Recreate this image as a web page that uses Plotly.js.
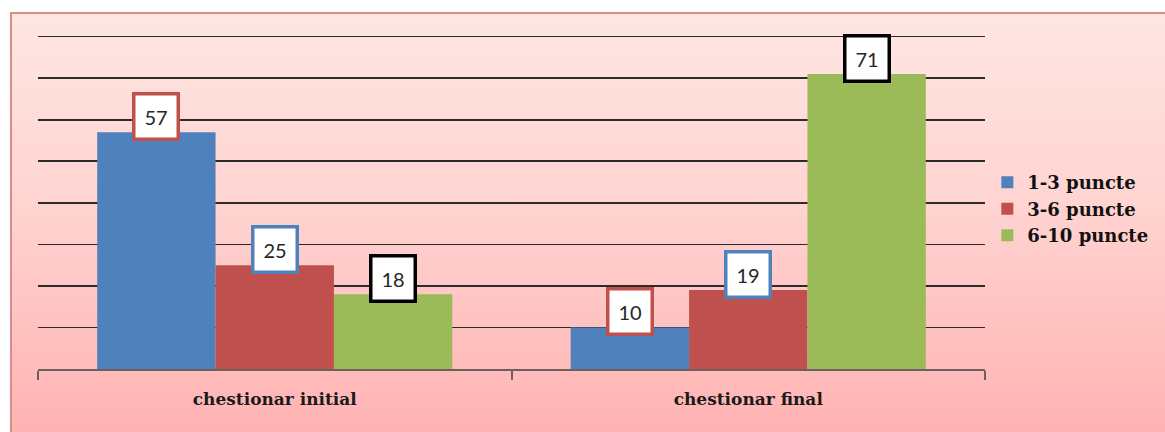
<!DOCTYPE html>
<html>
<head>
<meta charset="utf-8">
<script src="https://cdn.plot.ly/plotly-3.0.1.min.js"></script>
<style>
  html, body { margin: 0; padding: 0; background: #ffffff; }
  #bg {
    position: absolute; left: 10px; top: 12px; width: 1155px; height: 420px;
    border-left: 2px solid #d98c88; border-top: 2px solid #d98c88;
    background: linear-gradient(to bottom, #fee6e3 0%, #ffd4d1 45%, #ffb3b3 100%);
    box-sizing: border-box;
  }
  #chart { position: absolute; left: 0; top: 0; width: 1165px; height: 432px; }
</style>
</head>
<body>
<div id="bg"></div>
<div id="chart"></div>
<script>
const categories = ["chestionar initial", "chestionar final"];
const seriesNames = ["1-3 puncte", "3-6 puncte", "6-10 puncte"];
const values13 = [57, 10];
const values36 = [25, 19];
const values610 = [18, 71];

const seriesValues = [values13, values36, values610];
const barColors = ["#4f81bd", "#c0504d", "#9bbb59"];
const labelBorders = ["#c0504d", "#4f81bd", "#000000"];

const W = 1165, H = 432;
const margin = {l: 38, r: 180, t: 35, b: 63};
const bargap = 0.25;
const plotW = W - margin.l - margin.r;
const barPx = plotW / categories.length * (1 - bargap) / seriesValues.length;
const serif = "DejaVu Serif";

const traces = seriesValues.map((vals, i) => ({
  type: "bar",
  name: seriesNames[i],
  x: categories,
  y: vals,
  marker: {color: barColors[i]},
  hoverinfo: "none"
}));

const annotations = [];
seriesValues.forEach((vals, i) => {
  vals.forEach((v, j) => {
    annotations.push({
      x: categories[j], y: v, xref: "x", yref: "y",
      text: String(v), showarrow: false,
      xshift: (i - 1) * barPx, yshift: 16,
      font: {family: "Lato, Open Sans, sans-serif", size: 20, color: "#262626"},
      bgcolor: "#ffffff", bordercolor: labelBorders[i], borderwidth: 3.5, borderpad: 9
    });
  });
});

const layout = {
  width: W, height: H,
  margin: margin,
  paper_bgcolor: "rgba(0,0,0,0)",
  plot_bgcolor: "rgba(0,0,0,0)",
  barmode: "group",
  bargap: bargap,
  bargroupgap: 0,
  showlegend: true,
  legend: {
    xref: "container", yref: "container",
    x: 0.8475, y: 0.62, xanchor: "left", yanchor: "top",
    font: {family: serif, size: 18, color: "#111", weight: "bold"},
    bgcolor: "rgba(0,0,0,0)", tracegroupgap: 0, itemwidth: 30
  },
  xaxis: {
    type: "category",
    showline: true, linecolor: "#6e5f5f", linewidth: 2,
    ticks: "outside", tickson: "boundaries", ticklen: 9, tickwidth: 2, tickcolor: "#6e5f5f",
    ticklabelstandoff: 14,
    tickfont: {family: serif, size: 17, color: "#1a1a1a", weight: "bold"},
    showgrid: false, zeroline: false
  },
  yaxis: {
    range: [0, 80.4], dtick: 10, tick0: 0,
    showgrid: true, gridcolor: "#2b2b2b", gridwidth: 1.6,
    showticklabels: false, ticks: "", zeroline: false, showline: false
  },
  annotations: annotations
};

Plotly.newPlot("chart", traces, layout, {staticPlot: true, displayModeBar: false});
</script>
</body>
</html>
